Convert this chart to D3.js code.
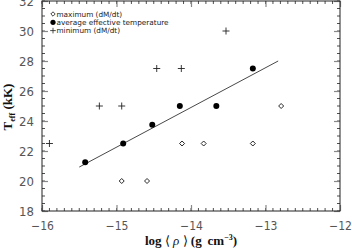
<!DOCTYPE html>
<html>
<head>
<meta charset="utf-8">
<script src="https://cdn.jsdelivr.net/npm/d3@7"></script>
<style>
  body { margin: 0; background: #fff; }
  .tick text { font-family: "Liberation Sans Narrow", "DejaVu Sans Condensed", sans-serif; }
</style>
</head>
<body>
<div id="chart"></div>
<script>
// values
const avgRho = [-15.42, -14.91, -14.52, -14.15, -13.66, -13.17];
const avgTeff = [21.25, 22.5, 23.75, 25, 25, 27.5];
const maxRho = [-14.93, -14.59, -14.12, -13.83, -13.17, -12.79];
const maxTeff = [20, 20, 22.5, 22.5, 22.5, 25];
const minRho = [-15.9, -15.23, -14.93, -14.46, -14.13, -13.53];
const minTeff = [22.5, 25, 25, 27.5, 27.5, 30];
const fitRho = [-15.5, -12.83];
const fitTeff = [20.93, 28.0];
const xTicks = [-16, -15, -14, -13, -12];
const yTicks = [18, 20, 22, 24, 26, 28, 30, 32];
const legendLabels = ["maximum (dM/dt)", "average effective temperature", "minimum (dM/dt)"];

const drawChart = () => {
  const width = 352;
  const height = 249;
  const margin = { top: 1, right: 12, bottom: 38, left: 42 };

  const svg = d3.select("#chart")
    .append("svg")
    .attr("width", width)
    .attr("height", height);

  const x = d3.scaleLinear().domain([-16, -12]).range([margin.left, width - margin.right]);
  const y = d3.scaleLinear().domain([18, 32]).range([height - margin.bottom, margin.top]);

  const minorX = d3.range(-16, -12.0001, 0.1);
  const minorY = d3.range(18, 32.0001, 0.5);

  const axisColor = "#222";
  const labelColor = "#555";

  // minor ticks, all four sides, pointing in
  const minorLen = 3, majorLen = 6;
  const g = svg.append("g").attr("stroke", axisColor).attr("stroke-width", 0.8);
  minorX.forEach(v => {
    g.append("line").attr("x1", x(v)).attr("x2", x(v)).attr("y1", y(18)).attr("y2", y(18) - minorLen);
    g.append("line").attr("x1", x(v)).attr("x2", x(v)).attr("y1", y(32)).attr("y2", y(32) + minorLen);
  });
  minorY.forEach(v => {
    g.append("line").attr("x1", x(-16)).attr("x2", x(-16) + minorLen).attr("y1", y(v)).attr("y2", y(v));
    g.append("line").attr("x1", x(-12)).attr("x2", x(-12) - minorLen).attr("y1", y(v)).attr("y2", y(v));
  });

  // major ticks and labels through d3 axes
  const xAxis = svg.append("g")
    .attr("transform", `translate(0,${y(18)})`)
    .call(d3.axisBottom(x).tickValues(xTicks).tickSizeInner(-majorLen).tickSizeOuter(0).tickPadding(10)
      .tickFormat(d => "\u2212" + Math.abs(d)));
  const xAxisTop = svg.append("g")
    .attr("transform", `translate(0,${y(32)})`)
    .call(d3.axisTop(x).tickValues(xTicks).tickSizeInner(-majorLen).tickSizeOuter(0).tickFormat(""));
  const yAxis = svg.append("g")
    .attr("transform", `translate(${x(-16)},0)`)
    .call(d3.axisLeft(y).tickValues(yTicks).tickSizeInner(-majorLen).tickSizeOuter(0).tickPadding(8));
  const yAxisRight = svg.append("g")
    .attr("transform", `translate(${x(-12)},0)`)
    .call(d3.axisRight(y).tickValues(yTicks).tickSizeInner(-majorLen).tickSizeOuter(0).tickFormat(""));

  [xAxis, xAxisTop, yAxis, yAxisRight].forEach(a => {
    a.select(".domain").remove();
    a.selectAll(".tick line").attr("stroke", "#888").attr("stroke-width", 1.2);
    a.selectAll(".tick text").attr("fill", labelColor).style("font-size", "13px");
  });
  xAxis.selectAll(".tick text").style("font-size", "12px");

  // frame
  svg.append("rect")
    .attr("x", x(-16)).attr("y", y(32))
    .attr("width", x(-12) - x(-16)).attr("height", y(18) - y(32))
    .attr("fill", "none").attr("stroke", axisColor).attr("stroke-width", 1);

  // fit line
  svg.append("line")
    .attr("x1", x(fitRho[0])).attr("y1", y(fitTeff[0]))
    .attr("x2", x(fitRho[1])).attr("y2", y(fitTeff[1]))
    .attr("stroke", "#333").attr("stroke-width", 0.9);

  const diamond = (cx, cy, r) => `M${cx},${cy - r}L${cx + r},${cy}L${cx},${cy + r}L${cx - r},${cy}Z`;
  const plus = (cx, cy, r) => `M${cx - r},${cy}H${cx + r}M${cx},${cy - r}V${cy + r}`;

  svg.selectAll(".maxpt")
    .data(maxRho.map((d, i) => [d, maxTeff[i]]))
    .enter().append("path")
    .attr("d", d => diamond(x(d[0]), y(d[1]), 2.5))
    .attr("fill", "none").attr("stroke", "#111").attr("stroke-width", 0.9);

  svg.selectAll(".minpt")
    .data(minRho.map((d, i) => [d, minTeff[i]]))
    .enter().append("path")
    .attr("d", d => plus(x(d[0]), y(d[1]), 3.5))
    .attr("fill", "none").attr("stroke", "#222").attr("stroke-width", 0.9);

  svg.selectAll(".avgpt")
    .data(avgRho.map((d, i) => [d, avgTeff[i]]))
    .enter().append("circle")
    .attr("cx", d => x(d[0])).attr("cy", d => y(d[1])).attr("r", 3)
    .attr("fill", "#000");

  // legend
  const lg = svg.append("g").attr("transform", "translate(53,14)");
  legendLabels.forEach((t, i) => {
    const ly = i * 8.3;
    if (i === 0) lg.append("path").attr("d", diamond(0, ly, 2.2)).attr("fill", "none").attr("stroke", "#111").attr("stroke-width", 0.8);
    if (i === 1) lg.append("circle").attr("cx", 0).attr("cy", ly).attr("r", 2.6).attr("fill", "#000");
    if (i === 2) lg.append("path").attr("d", plus(0, ly, 2.8)).attr("stroke", "#222").attr("stroke-width", 0.8);
    lg.append("text")
      .attr("x", 3.5).attr("y", ly).attr("dy", "0.35em")
      .attr("font-family", "'DejaVu Sans', sans-serif").attr("font-size", 7.3)
      .attr("fill", "#222")
      .text(t);
  });

  // axis titles
  const xt = svg.append("text")
    .attr("x", 191).attr("y", 245)
    .attr("text-anchor", "middle")
    .attr("font-family", "'Liberation Serif', serif").attr("font-size", 13)
    .attr("fill", "#111");
  xt.append("tspan").attr("font-weight", "bold").text("log ");
  xt.append("tspan").text("\u27E8 ");
  xt.append("tspan").attr("font-style", "italic").text("\u03C1");
  xt.append("tspan").text(" \u27E9 ");
  xt.append("tspan").attr("font-weight", "bold").text("(g\u2009 cm");
  xt.append("tspan").attr("font-size", 8).attr("dy", -5).attr("font-weight", "bold").text("\u22123");
  xt.append("tspan").attr("dy", 5).attr("font-weight", "bold").text(")");

  const yt = svg.append("text")
    .attr("transform", "translate(12,107) rotate(-90)")
    .attr("text-anchor", "middle")
    .attr("font-family", "'Liberation Serif', serif").attr("font-size", 13)
    .attr("font-weight", "bold").attr("fill", "#111");
  yt.append("tspan").text("T");
  yt.append("tspan").attr("font-size", 8).attr("dy", 3).text("eff");
  yt.append("tspan").attr("dy", -3).text(" (kK)");
};

drawChart();
</script>
</body>
</html>
